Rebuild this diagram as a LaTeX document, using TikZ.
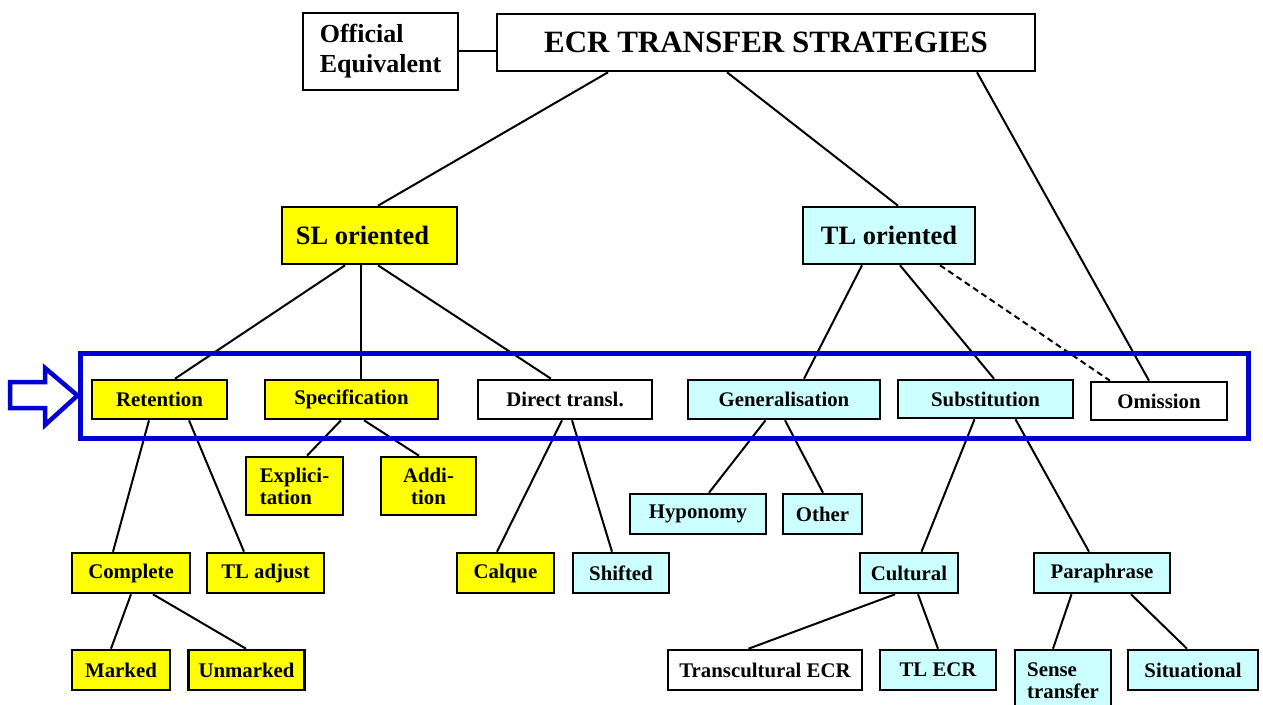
\documentclass[tikz,border=0pt]{standalone}
\usepackage{fontspec}
\setmainfont{Liberation Serif}
\definecolor{yel}{RGB}{255,255,0}
\definecolor{cya}{RGB}{204,255,255}
\definecolor{frameblue}{RGB}{0,0,210}
\begin{document}
\begin{tikzpicture}[x=1pt,y=-1pt,
  box/.style={draw, line width=2.6pt, inner sep=0pt, align=center,
    font=\bfseries\fontsize{20.8}{22}\selectfont},
  yb/.style={box, fill=yel},
  cb/.style={box, fill=cya},
  wb/.style={box, fill=white},
  link/.style={line width=2pt},
  dlink/.style={line width=2pt, dash pattern=on 6pt off 4pt}]
\fill[white] (0,0) rectangle (1263,704);
\useasboundingbox (0,0) rectangle (1263,704);
\clip (0,0) rectangle (1263,704);

% top level
\node[wb, minimum width=155pt, minimum height=77pt, align=left,
  font=\bfseries\fontsize{26}{30}\selectfont] (off) at (380.5,51.5) {Official\\Equivalent};
\node[wb, minimum width=538pt, minimum height=57pt,
  font=\bfseries\fontsize{31}{34}\selectfont] (ecr) at (766,42.5) {ECR TRANSFER STRATEGIES};
\node[yb, minimum width=175pt, minimum height=57pt,
  font=\bfseries\fontsize{26.5}{30}\selectfont] (sl) at (369.5,235.5) {\hspace*{-14pt}SL oriented};
\node[cb, minimum width=172pt, minimum height=57pt,
  font=\bfseries\fontsize{26.5}{30}\selectfont] (tl) at (889,235.5) {TL oriented};

% framed row
\node[yb, minimum width=135pt, minimum height=39pt] (ret) at (159.5,399.5) {Retention};
\node[yb, minimum width=173pt, minimum height=39pt] (spec) at (351.5,399.5) {Specification};
\node[wb, minimum width=174pt, minimum height=39pt] (dir) at (565,399.5) {Direct transl.};
\node[cb, minimum width=192pt, minimum height=39pt] (gen) at (784,399.5) {Generalisation};
\node[cb, minimum width=175pt, minimum height=38pt] (sub) at (985.5,399) {Substitution};
\node[wb, minimum width=136pt, minimum height=38pt] (omi) at (1159,401) {Omission};

% second level
\node[yb, minimum width=97pt, minimum height=58pt, align=left] (expl) at (294.5,486) {Explici-\\tation};
\node[yb, minimum width=95pt, minimum height=58pt] (add) at (428.5,486) {Addi-\\tion};
\node[cb, minimum width=136pt, minimum height=40pt] (hyp) at (698,514) {Hyponomy};
\node[cb, minimum width=79pt, minimum height=40pt] (oth) at (822.5,514) {Other};

\node[yb, minimum width=118pt, minimum height=40pt] (comp) at (131,573) {Complete};
\node[yb, minimum width=117pt, minimum height=40pt] (tla) at (265.5,573) {TL adjust};
\node[yb, minimum width=97pt, minimum height=40pt] (calq) at (505.5,573) {Calque};
\node[cb, minimum width=96pt, minimum height=40pt] (shif) at (621,573) {Shifted};
\node[cb, minimum width=98pt, minimum height=40pt] (cult) at (909,573) {Cultural};
\node[cb, minimum width=136pt, minimum height=40pt] (para) at (1102,573) {Paraphrase};

% bottom row
\node[yb, minimum width=98pt, minimum height=40pt] (mark) at (121,670) {Marked};
\node[yb, minimum width=116pt, minimum height=40pt] (unm) at (246.5,670) {Unmarked};
\node[wb, minimum width=194pt, minimum height=40pt] (trans) at (765,670) {Transcultural ECR};
\node[cb, minimum width=116pt, minimum height=40pt] (tlecr) at (938,670) {TL ECR};
\node[cb, minimum width=96pt, minimum height=62pt, align=left] (sense) at (1063,681) {Sense\\transfer};
\node[cb, minimum width=130pt, minimum height=40pt] (sit) at (1193,670) {Situational};

% connectors
\draw[link] (off.east |- 0,51) -- (ecr.west |- 0,51);
\draw[link] ([xshift=-158pt]ecr.south) -- ([xshift=8.5pt]sl.north);
\draw[link] ([xshift=-39pt]ecr.south) -- ([xshift=9pt]tl.north);
\draw[link] ([xshift=211pt]ecr.south) -- ([xshift=-10pt]omi.north);

\draw[link] ([xshift=-24.5pt]sl.south) -- ([xshift=15.5pt]ret.north);
\draw[link] ([xshift=-8.5pt]sl.south) -- ([xshift=9.5pt]spec.north);
\draw[link] ([xshift=8.5pt]sl.south) -- ([xshift=-14pt]dir.north);

\draw[link] ([xshift=-27pt]tl.south) -- ([xshift=20pt]gen.north);
\draw[link] ([xshift=11pt]tl.south) -- ([xshift=8.5pt]sub.north);
\draw[dlink] ([xshift=51pt]tl.south) -- ([xshift=-49pt]omi.north);

\draw[link] ([xshift=-10.5pt]ret.south) -- ([xshift=-18pt]comp.north);
\draw[link] ([xshift=29.5pt]ret.south) -- ([xshift=-21.5pt]tla.north);
\draw[link] ([xshift=-10.5pt]spec.south) -- ([xshift=12.5pt]expl.north);
\draw[link] ([xshift=12.5pt]spec.south) -- ([xshift=-9.5pt]add.north);
\draw[link] ([xshift=-3pt]dir.south) -- ([xshift=-8.5pt]calq.north);
\draw[link] ([xshift=7pt]dir.south) -- ([xshift=-9pt]shif.north);
\draw[link] ([xshift=-18.5pt]gen.south) -- ([xshift=11pt]hyp.north);
\draw[link] ([xshift=1pt]gen.south) -- ([xshift=0.5pt]oth.north);
\draw[link] ([xshift=-11pt]sub.south) -- ([xshift=12.5pt]cult.north);
\draw[link] ([xshift=30pt]sub.south) -- ([xshift=-13pt]para.north);

\draw[link] (comp.south) -- ([xshift=-10pt]mark.north);
\draw[link] ([xshift=22pt]comp.south) -- ([xshift=-0.5pt]unm.north);
\draw[link] ([xshift=-14pt]cult.south) -- ([xshift=-16.5pt]trans.north);
\draw[link] ([xshift=9pt]cult.south) -- (tlecr.north);
\draw[link] ([xshift=-30.5pt]para.south) -- ([xshift=-10pt]sense.north);
\draw[link] ([xshift=29pt]para.south) -- ([xshift=-6pt]sit.north);

% blue frame and arrow
\node[draw=frameblue, line width=5pt, inner sep=0pt, minimum width=1168pt,
  minimum height=85pt] (frame) at (664,395.5) {};
\draw[frameblue, line width=4.5pt, line join=miter]
  (10,382) -- (45,382) -- (45,368) -- (frame.west) -- (45,425) -- (45,408) -- (10,408) -- cycle;
\end{tikzpicture}
\end{document}
